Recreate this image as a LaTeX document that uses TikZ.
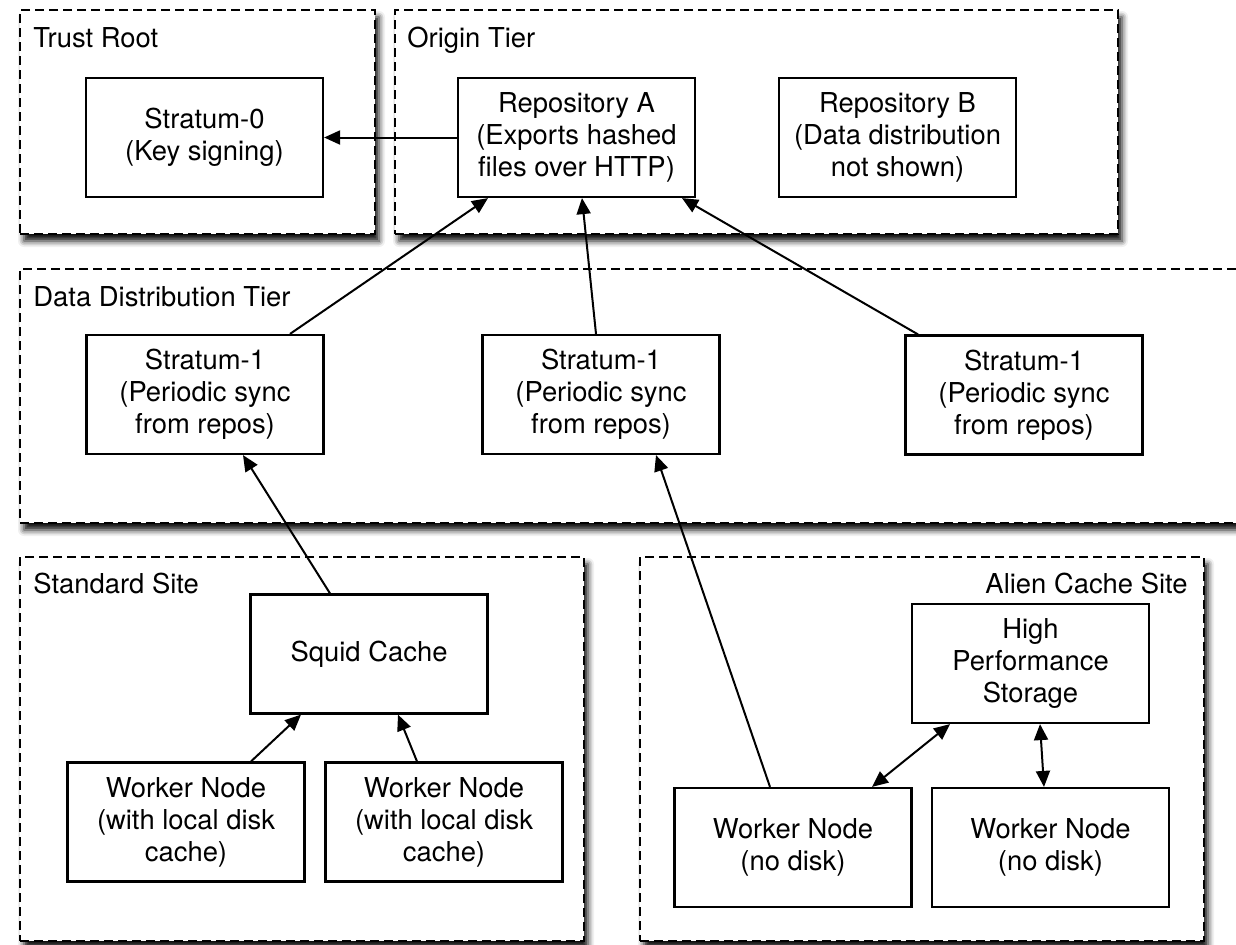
\documentclass[tikz,border=0pt]{standalone}
\usepackage{fontspec}
\setmainfont{TeX Gyre Heros}
\usetikzlibrary{arrows.meta,shadows.blur}

\tikzstyle{block} = [draw, text centered, minimum height = 59.5pt, minimum width = 118.5pt, inner sep = 0pt, line width = 1.1pt]
\tikzstyle{tier} = [draw, dash pattern = on 4.5pt off 2.5pt, line width = 1.2pt, fill = white, inner sep = 0pt, blur shadow = {shadow xshift = 2pt, shadow yshift = -3.5pt, shadow blur radius = 3pt, shadow opacity = 95}]
\tikzstyle{tiername} = [inner sep = 0pt]
\tikzstyle{conn} = [-{Triangle[length = 8pt, width = 7pt]}, line width = 1pt]
\tikzstyle{dconn} = [{Triangle[length = 8pt, width = 7pt]}-{Triangle[length = 8pt, width = 7pt]}, line width = 1pt]

\begin{document}
\begin{tikzpicture}[x = 0.5pt, y = -0.5pt, font = \fontsize{13.7}{16}\selectfont]
		\useasboundingbox (0, 0) rectangle (1236, 944);
		% tiers
		\node [tier, minimum width = 177.5pt, minimum height = 112pt] at (197.5, 122) (t1) {};
		\node [tier, minimum width = 361.5pt, minimum height = 112pt] at (756.5, 122) (t2) {};
		\node [tier, minimum width = 615pt, minimum height = 127pt] at (635, 396) (t3) {};
		\node [tier, minimum width = 282pt, minimum height = 192pt] at (302, 749) (t4) {};
		\node [tier, minimum width = 282pt, minimum height = 192pt] at (922, 749) (t5) {};
		\node [tiername, anchor = base west] at (33, 47) (n1) {Trust Root};
		\node [tiername, anchor = base west] at (407, 47) (n2) {Origin Tier};
		\node [tiername, anchor = base west] at (33, 306) (n3) {Data Distribution Tier};
		\node [tiername, anchor = base west] at (33, 593) (n4) {Standard Site};
		\node [tiername, anchor = base east] at (1188, 593) (n5) {Alien Cache Site};

		% boxes
		\node [block, align = center] at (204.5, 137.5) (1) {Stratum-0\\(Key signing)};
		\node [block, align = center] at (576.5, 137.5) (2) {Repository A\\(Exports hashed\\files over HTTP)};
		\node [block, align = center] at (897.5, 137.5) (3) {Repository B\\(Data distribution\\not shown)};
		\node [block, align = center] at (205, 394.5) (4) {Stratum-1\\(Periodic sync\\from repos)};
		\node [block, align = center] at (601, 394.5) (5) {Stratum-1\\(Periodic sync\\from repos)};
		\node [block, align = center] at (1024, 395) (6) {Stratum-1\\(Periodic sync\\from repos)};
		\node [block, align = center] at (369, 654) (7) {Squid Cache};
		\node [block, align = center] at (186, 822) (8) {Worker Node\\(with local disk\\cache)};
		\node [block, align = center] at (444, 822) (9) {Worker Node\\(with local disk\\cache)};
		\node [block, align = center] at (1030.5, 663.5) (10) {High\\Performance\\Storage};
		\node [block, align = center] at (793, 847.5) (11) {Worker Node\\(no disk)};
		\node [block, align = center] at (1050.5, 847.5) (12) {Worker Node\\(no disk)};

		% connections
		\draw [conn] (2.west) -- (1.east);
		\draw [conn] ([xshift = 42.5pt]4.north) -- ([xshift = -44.25pt]2.south);
		\draw [conn] ([xshift = -2.5pt]5.north) -- ([xshift = 2.75pt]2.south);
		\draw [conn] ([xshift = -53pt]6.north) -- ([xshift = 52.75pt]2.south);
		\draw [conn] ([xshift = -19.5pt]7.north) -- ([xshift = 19pt]4.south);
		\draw [conn] ([xshift = 32.5pt]8.north) -- ([xshift = -34pt]7.south);
		\draw [conn] ([xshift = -13.5pt]9.north) -- ([xshift = 14.5pt]7.south);
		\draw [conn] ([xshift = -11.5pt]11.north) -- ([xshift = 27.5pt]5.south);
		\draw [dconn] ([xshift = -40.25pt]10.south) -- ([xshift = 39.5pt]11.north);
		\draw [dconn] ([xshift = 4.75pt]10.south) -- ([xshift = -3.25pt]12.north);
	\end{tikzpicture}
\end{document}
